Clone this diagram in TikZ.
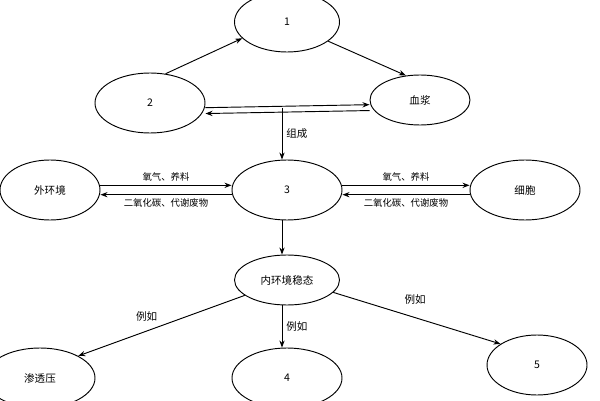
\documentclass[tikz,border=0pt]{standalone}
\usepackage{fontspec}
\setmainfont{Noto Sans CJK SC}
\usetikzlibrary{shapes.geometric,arrows.meta}
\begin{document}
\begin{tikzpicture}[x=0.03cm,y=-0.03cm,
 el/.style={draw,thick,ellipse,minimum width=#1*0.03cm,minimum height=1.8cm,font=\small},
 el/.default=105,
 arr/.style={-{Stealth[length=6pt]},thick},
 lb/.style={font=\footnotesize}]
\useasboundingbox (0,0) rectangle (600,400);
\begin{scope}
\clip (0,0) rectangle (600,400);
\node[el=105] (n1) at (287,22) {1};
\node[el=110] (n2) at (150,103) {2};
\node[el=100,minimum height=1.5cm] (xj) at (420,100) {血浆};
\node[el=110] (n3) at (287,190) {3};
\node[el=100] (wh) at (50,190) {外环境};
\node[el=110] (xb) at (525,190) {细胞};
\node[el=105,minimum height=1.5cm] (wt) at (287,280) {内环境稳态};
\node[el=110] (st) at (40,378) {渗透压};
\node[el=110] (n4) at (287,378) {4};
\node[el=100] (n5) at (537,365) {5};
\end{scope}
\draw[arr] (n2.62) -- (n1.200);
\draw[arr] (n1.-25) -- (xj.120);
\draw[arr] ([yshift=-4pt]n2.east) -- ([yshift=-4pt]xj.west);
\draw[arr] ([yshift=-9pt]xj.west) -- ([yshift=-9pt]n2.east);
\coordinate (c1) at (282,108);
\draw[arr] (c1) -- (n3.north -| c1) node[midway,right,font=\small] {组成};
\draw[arr] ([yshift=4pt]wh.east) -- node[above,lb]{氧气、养料} ([yshift=4pt]n3.west);
\draw[arr] ([yshift=-4pt]n3.west) -- node[below,lb]{二氧化碳、代谢废物} ([yshift=-4pt]wh.east);
\draw[arr] ([yshift=4pt]n3.east) -- node[above,lb]{氧气、养料} ([yshift=4pt]xb.west);
\draw[arr] ([yshift=-4pt]xb.west) -- node[below,lb]{二氧化碳、代谢废物} ([yshift=-4pt]n3.east);
\draw[arr] (n3.south -| c1) -- (wt.north -| c1);
\draw[arr] (wt.200) -- node[above left,font=\small]{例如} (st.30);
\draw[arr] (wt.south -| c1) -- node[right,font=\small]{例如} (n4.north -| c1);
\draw[arr] (wt.-15) -- node[above right,pos=0.4,yshift=4pt,font=\small]{例如} (n5.150);
\end{tikzpicture}
\end{document}
